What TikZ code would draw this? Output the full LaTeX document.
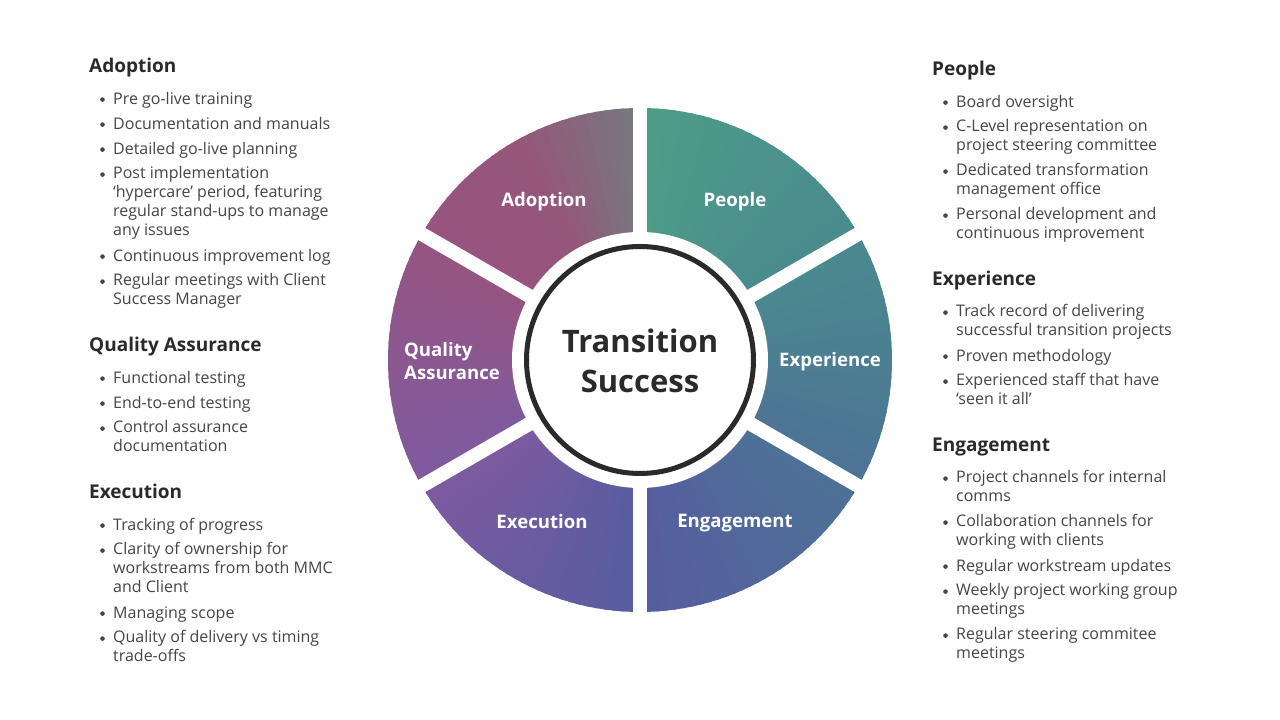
\documentclass[tikz,border=0pt]{standalone}
\usepackage{fontspec}
\setmainfont{Open Sans}
\definecolor{txt}{HTML}{454545}
\definecolor{hd}{HTML}{2A2A2A}
\definecolor{s0}{HTML}{4E9C88}
\definecolor{s1}{HTML}{4A8A8E}
\definecolor{s2}{HTML}{4D7296}
\definecolor{s3}{HTML}{575CA0}
\definecolor{s4}{HTML}{7E5AA0}
\definecolor{s5}{HTML}{985480}
\definecolor{s6}{HTML}{95567A}
\definecolor{s7}{HTML}{767A80}
\begin{document}
\begin{tikzpicture}[x=1pt,y=1pt,
  head/.style={anchor=base west,inner sep=0,text=hd,font=\fontsize{19}{22}\selectfont\bfseries},
  itm/.style={anchor=north west,inner sep=0,align=left,text=txt,font=\fontsize{16}{19}\selectfont,execute at begin node=\strut},
  dotc/.style={fill=txt},
  seg/.style={text=white,font=\fontsize{18.6}{23}\selectfont\bfseries},
  gap/.style={white,line width=14}]
\fill[white] (0,0) rectangle (1280,720);
\useasboundingbox (0,0) rectangle (1280,720);

% ring, conic colours
\begin{scope}[shift={(640,360)}]
\foreach \ca/\cb/\a/\b in {s0/s1/0/60,s1/s2/60/120,s2/s3/120/180,s3/s4/180/240,s4/s5/240/300,s5/s6/300/330,s6/s7/330/360}{
  \pgfmathtruncatemacro\nn{(\b-\a)/2-1}
  \foreach \k in {0,...,\nn}{
    \pgfmathsetmacro\p{100-200*\k/(\b-\a)}
    \pgfmathsetmacro\ang{90-\a-2*\k}
    \fill[fill={\ca!\p!\cb}] (0,0) -- (\ang+0.3:252) arc[start angle=\ang+0.3,end angle=\ang-2.3,radius=252] -- cycle;
  }
}
\foreach \g in {90,30,-30,-90,-150,150}
  \draw[gap] (0,0) -- (\g:262);
\fill[white] (0,0) circle (128);
\draw[line width=5,hd] (0,0) circle (113.5);
\end{scope}

\node[font=\fontsize{31}{40}\selectfont\bfseries,text=hd,align=center] (hub) at (640,359) {Transition\\Success};
\node[seg] (lPeo) at (735,518.5) {People};
\node[seg] (lExp) at (830,358.5) {Experience};
\node[seg] (lEng) at (735,196.5) {Engagement};
\node[seg] (lExe) at (542,198) {Execution};
\node[seg,align=left] (lQA) at (452,358.5) {Quality\\Assurance};
\node[seg] (lAdo) at (544,518.5) {Adoption};

% left column
\node[head] (hAdo) at (89,647.4) {Adoption};
\node[itm] (a1) at (113,629) {Pre go-live training};
\node[itm] (a2) at (113,604) {Documentation and manuals};
\node[itm] (a3) at (113,579) {Detailed go-live planning};
\node[itm] (a4) at (113,554) {Post implementation\\‘hypercare’ period, featuring\\regular stand-ups to manage\\any issues};
\node[itm] (a5) at (113,472) {Continuous improvement log};
\node[itm] (a6) at (113,447) {Regular meetings with Client\\Success Manager};

\node[head] (hQA) at (89,368.4) {Quality Assurance};
\node[itm] (q1) at (113,350) {Functional testing};
\node[itm] (q2) at (113,325) {End-to-end testing};
\node[itm] (q3) at (113,300) {Control assurance\\documentation};

\node[head] (hExe) at (89,221.4) {Execution};
\node[itm] (e1) at (113,203) {Tracking of progress};
\node[itm] (e2) at (113,178) {Clarity of ownership for\\workstreams from both MMC\\and Client};
\node[itm] (e3) at (113,115) {Managing scope};
\node[itm] (e4) at (113,90) {Quality of delivery vs timing\\trade-offs};

% right column
\node[head] (hPeo) at (932,644.4) {People};
\node[itm] (p1) at (956,626) {Board oversight};
\node[itm] (p2) at (956,601) {C-Level representation on\\project steering committee};
\node[itm] (p3) at (956,557) {Dedicated transformation\\management office};
\node[itm] (p4) at (956,513) {Personal development and\\continuous improvement};

\node[head] (hExp) at (932,434.4) {Experience};
\node[itm] (x1) at (956,416) {Track record of delivering\\successful transition projects};
\node[itm] (x2) at (956,372) {Proven methodology};
\node[itm] (x3) at (956,347) {Experienced staff that have\\‘seen it all’};

\node[head] (hEng) at (932,268.4) {Engagement};
\node[itm] (g1) at (956,250) {Project channels for internal\\comms};
\node[itm] (g2) at (956,206) {Collaboration channels for\\working with clients};
\node[itm] (g3) at (956,162) {Regular workstream updates};
\node[itm] (g4) at (956,137) {Weekly project working group\\meetings};
\node[itm] (g5) at (956,93) {Regular steering commitee\\meetings};

\foreach \n in {a1,a2,a3,a4,a5,a6,q1,q2,q3,e1,e2,e3,e4,p1,p2,p3,p4,x1,x2,x3,g1,g2,g3,g4,g5}
  \fill[dotc] ([shift={(-10.5,-8.6)}]\n.north west) circle (2.3);
\end{tikzpicture}
\end{document}
